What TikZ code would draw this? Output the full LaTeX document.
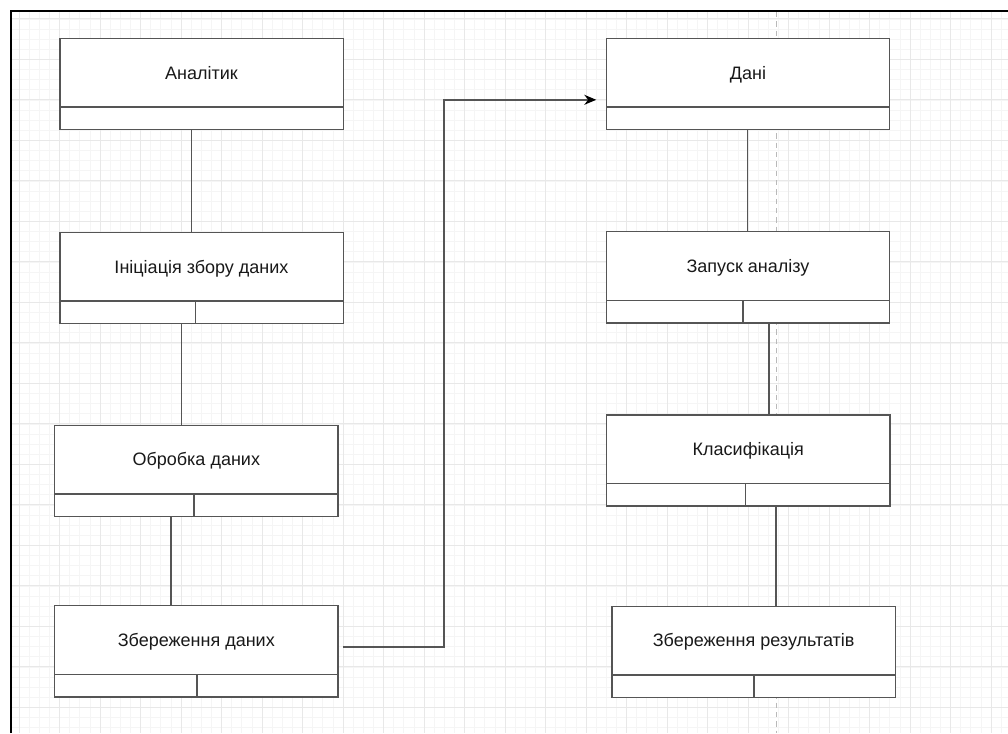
\documentclass[tikz,border=0pt]{standalone}
\usepackage{fontspec}
\setmainfont{Liberation Sans}
\usetikzlibrary{positioning,calc,arrows.meta}

\definecolor{boxclr}{RGB}{85,85,85}
\definecolor{gridminor}{RGB}{245,245,245}
\definecolor{gridmajor}{RGB}{232,232,232}
\definecolor{pageclr}{RGB}{185,185,185}

\tikzset{every picture/.style={line width=0.75pt}}
\tikzset{
	umlhead/.style={draw=boxclr, line width=1.1, fill=white, minimum width=212.6pt, minimum height=51.4pt, inner sep=0pt, outer sep=0pt, text height=10.5pt, text depth=1pt, font=\fontsize{13.5}{16}\selectfont, text=black!90},
	umlpart/.style={umlhead, minimum height=17pt},
	link/.style={draw=boxclr, line width=1.1},
}

\begin{document}
\begin{tikzpicture}[x=0.75pt,y=0.75pt,yscale=-1,xscale=1]
	\useasboundingbox (0,0) rectangle (1008,733);
	
	%Grid
	\foreach \i in {1,...,98} \draw[gridminor, line width=0.6] ({8.9+10.125*\i},12) -- ({8.9+10.125*\i},733);
	\foreach \j in {1,...,71} \draw[gridminor, line width=0.6] (12,{8.8+10.125*\j}) -- (1008,{8.8+10.125*\j});
	\foreach \i in {0,...,24} \draw[gridmajor, line width=0.6] ({19+40.5*\i},12) -- ({19+40.5*\i},733);
	\foreach \j in {0,...,17} \draw[gridmajor, line width=0.6] (12,{18.8+40.5*\j}) -- (1008,{18.8+40.5*\j});
	
	%Page break
	\draw[pageclr, dash pattern=on 4pt off 3pt] (776.5,12) -- (776.5,733);
	
	%Frame
	\draw[line width=1.5] (11,733) -- (11,10.7) -- (1008,10.7);
	
	% Left column
	\node[umlhead] (anl) at (201.5,72.8) {Аналітик};
	\node[umlpart, below=0pt of anl] (anl-c) {};
	
	\node[umlhead] (init) at (201.5,266.7) {Ініціація збору даних};
	\node[umlpart, below=0pt of init] (init-c) {};
	\draw[link] ($(init-c.north west)+(135.7,0)$) -- ($(init-c.south west)+(135.7,0)$);
	
	\node[umlhead] (obr) at (196.3,459.5) {Обробка даних};
	\node[umlpart, below=0pt of obr] (obr-c) {};
	\draw[link] ($(obr-c.north west)+(139.4,0)$) -- ($(obr-c.south west)+(139.4,0)$);
	
	\node[umlhead] (zber) at (196.3,640) {Збереження даних};
	\node[umlpart, below=0pt of zber] (zber-c) {};
	\draw[link] ($(zber-c.north west)+(142.4,0)$) -- ($(zber-c.south west)+(142.4,0)$);
	
	% Right column
	\node[umlhead] (dani) at (748,72.8) {Дані};
	\node[umlpart, below=0pt of dani] (dani-c) {};
	
	\node[umlhead] (zapusk) at (748,266) {Запуск аналізу};
	\node[umlpart, below=0pt of zapusk] (zapusk-c) {};
	\draw[link] ($(zapusk-c.north west)+(136.5,0)$) -- ($(zapusk-c.south west)+(136.5,0)$);
	
	\node[umlhead] (klas) at (748.3,449.2) {Класифікація};
	\node[umlpart, below=0pt of klas] (klas-c) {};
	\draw[link] ($(klas-c.north west)+(139,0)$) -- ($(klas-c.south west)+(139,0)$);
	
	\node[umlhead] (zberres) at (753.7,640.5) {Збереження результатів};
	\node[umlpart, below=0pt of zberres] (zberres-c) {};
	\draw[link] ($(zberres-c.north west)+(141.8,0)$) -- ($(zberres-c.south west)+(141.8,0)$);
	
	%Straight Lines
	\draw[link] ($(anl-c.south)+(-9.8,0)$) coordinate (l1) -- (l1 |- init.north);
	\draw[link] ($(init-c.south)+(-19.8,0)$) coordinate (l2) -- (l2 |- obr.north);
	\draw[link] ($(obr-c.south)+(-25.3,0)$) coordinate (l3) -- (l3 |- zber.north);
	\draw[link] ($(dani-c.south)+(-0.3,0)$) coordinate (r1) -- (r1 |- zapusk.north);
	\draw[link] ($(zapusk-c.south)+(21,0)$) coordinate (r2) -- (r2 |- klas.north);
	\draw[link] ($(klas-c.south)+(27.7,0)$) coordinate (r3) -- (r3 |- zberres.north);
	
	%Arrow
	\draw[link, -{Stealth[length=9pt,width=7.5pt,color=black]}] ($(zber.east)+(5,7)$) -- ++(101,0) |- ($(dani.west)+(-10,27)$);
	
\end{tikzpicture}
\end{document}
